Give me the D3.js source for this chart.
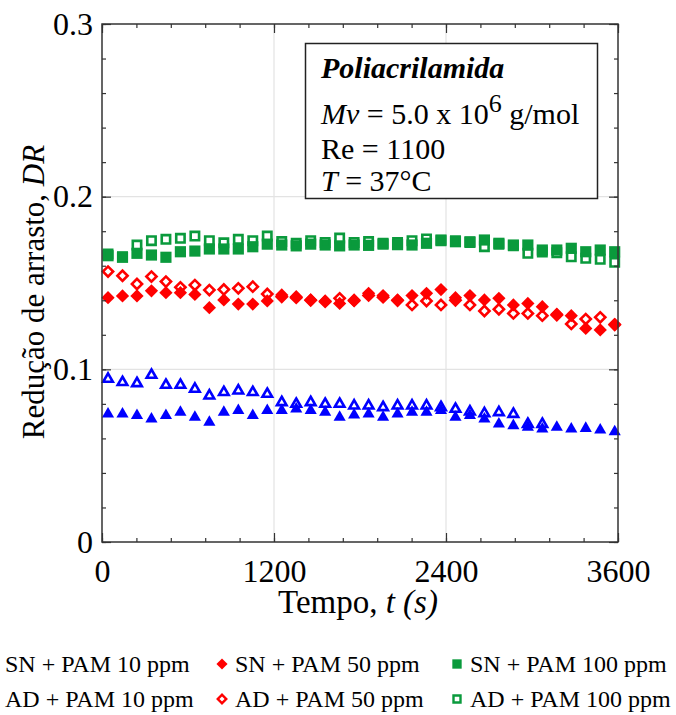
<!DOCTYPE html>
<html>
<head>
<meta charset="utf-8">
<script src="https://cdn.jsdelivr.net/npm/d3@7"></script>
<style>
  body { margin: 0; background: #fff; }
  text { font-family: "Liberation Serif", "Times New Roman", serif; }
</style>
</head>
<body>
<div id="chart"></div>
<script>
// time of each reading (s)
var tempo = [42, 143, 244, 345, 446, 547, 648, 749, 850, 951, 1052, 1153,
  1254, 1355, 1456, 1557, 1658, 1759, 1860, 1961, 2062, 2163, 2264, 2365,
  2466, 2567, 2668, 2769, 2870, 2971, 3072, 3173, 3274, 3375, 3476, 3577];

var sn10 = [0.0741, 0.0741, 0.0732, 0.0712, 0.0732, 0.0751, 0.0722, 0.0693, 0.0751, 0.0761, 0.0732, 0.0761,
  0.0761, 0.0770, 0.0761, 0.0751, 0.0722, 0.0735, 0.0741, 0.0722, 0.0741, 0.0751, 0.0751, 0.0761,
  0.0722, 0.0732, 0.0712, 0.0683, 0.0674, 0.0664, 0.0654, 0.0664, 0.0654, 0.0658, 0.0649, 0.0639];
var ad10 = [0.0944, 0.0925, 0.0919, 0.0967, 0.0909, 0.0909, 0.0886, 0.0847, 0.0867, 0.0876, 0.0867, 0.0857,
  0.0809, 0.0799, 0.0809, 0.0799, 0.0799, 0.0789, 0.0789, 0.0780, 0.0789, 0.0789, 0.0789, 0.0780,
  0.0770, 0.0755, 0.0745, 0.0751, 0.0741, 0.0683, 0.0683];
var sn50 = [0.1415, 0.1425, 0.1425, 0.1455, 0.1444, 0.1444, 0.1434, 0.1357, 0.1402, 0.1378, 0.1378, 0.1396,
  0.1431, 0.1421, 0.1402, 0.1396, 0.1382, 0.1396, 0.1440, 0.1427, 0.1402, 0.1427, 0.1440, 0.1462,
  0.1415, 0.1427, 0.1402, 0.1411, 0.1373, 0.1382, 0.1363, 0.1319, 0.1311, 0.1237, 0.1228, 0.1261];
var ad50 = [0.1566, 0.1542, 0.1494, 0.1537, 0.1508, 0.1475, 0.1488, 0.1459, 0.1463, 0.1469, 0.1479, 0.1436,
  0.1420, 0.1415, 0.1400, 0.1392, 0.1411, 0.1400, 0.1428, 0.1418, 0.1398, 0.1373, 0.1396, 0.1373,
  0.1400, 0.1373, 0.1338, 0.1348, 0.1324, 0.1324, 0.1311, 0.1315, 0.1263, 0.1291, 0.1301, 0.1258];
var sn100 = [0.1658, 0.1649, 0.1672, 0.1662, 0.1649, 0.1681, 0.1685, 0.1697, 0.1697, 0.1697, 0.1710, 0.1725,
  0.1720, 0.1715, 0.1725, 0.1720, 0.1715, 0.1720, 0.1718, 0.1725, 0.1722, 0.1720, 0.1730, 0.1749,
  0.1739, 0.1739, 0.1749, 0.1730, 0.1720, 0.1720, 0.1691, 0.1691, 0.1701, 0.1681, 0.1691, 0.1681];
var ad100 = [0.1668, 0.1652, 0.1720, 0.1745, 0.1753, 0.1759, 0.1772, 0.1745, 0.1733, 0.1753, 0.1745, 0.1772,
  0.1740, 0.1730, 0.1745, 0.1735, 0.1760, 0.1735, 0.1740, 0.1730, 0.1735, 0.1745, 0.1755, 0.1745,
  0.1745, 0.1735, 0.1710, 0.1725, 0.1715, 0.1672, 0.1680, 0.1675, 0.1652, 0.1643, 0.1637, 0.1620];

var xTicks = [0, 1200, 2400, 3600];
var yTicks = [0, 0.1, 0.2, 0.3];
var legendLabels = ["SN + PAM 10 ppm", "SN + PAM 50 ppm", "SN + PAM 100 ppm",
  "AD + PAM 10 ppm", "AD + PAM 50 ppm", "AD + PAM 100 ppm"];

var W = 676, H = 715;
var svg = d3.select("#chart").append("svg")
    .attr("width", W)
    .attr("height", H);

var plot = {left: 102, right: 618, top: 24, bottom: 542};

var x = d3.scaleLinear().domain([0, 3600]).range([plot.left, plot.right]);
var y = d3.scaleLinear().domain([0, 0.3]).range([plot.bottom, plot.top]);

var red = "#ff0000", blue = "#0000ff", green = "#0a9a3c";

// series: filled ones first, open ones drawn on top
var series = [
  {vals: sn10, shape: d3.symbolTriangle, size: 64, color: blue, open: false, rot: 0},
  {vals: sn50, shape: d3.symbolSquare, size: 88, color: red, open: false, rot: 45},
  {vals: sn100, shape: d3.symbolSquare, size: 125, color: green, open: false, rot: 0},
  {vals: ad10, shape: d3.symbolTriangle, size: 40, color: blue, open: true, rot: 0},
  {vals: ad50, shape: d3.symbolSquare, size: 52, color: red, open: true, rot: 45},
  {vals: ad100, shape: d3.symbolSquare, size: 70, color: green, open: true, rot: 0}
];

// grid
var grid = svg.append("g");
grid.selectAll(".gx").data([1200, 2400]).enter().append("line")
    .attr("x1", d => x(d)).attr("x2", d => x(d))
    .attr("y1", plot.top).attr("y2", plot.bottom)
    .attr("stroke", "#e3e3e3").attr("stroke-width", 1.2);
grid.selectAll(".gy").data([0.1, 0.2]).enter().append("line")
    .attr("x1", plot.left).attr("x2", plot.right)
    .attr("y1", d => y(d)).attr("y2", d => y(d))
    .attr("stroke", "#e3e3e3").attr("stroke-width", 1.2);

// info box
var box = svg.append("g");
box.append("rect")
    .attr("x", 305.5).attr("y", 43.5)
    .attr("width", 292).attr("height", 155)
    .attr("fill", "#fff").attr("stroke", "#222").attr("stroke-width", 1.5);
box.append("text").attr("x", 321).attr("y", 78)
    .style("font-size", "30px").style("font-weight", "bold").style("font-style", "italic")
    .text("Poliacrilamida");
var mv = box.append("text").attr("x", 321).attr("y", 124).style("font-size", "30px");
mv.append("tspan").style("font-style", "italic").text("Mv");
mv.append("tspan").text(" = 5.0 x 10");
mv.append("tspan").attr("dy", -12).style("font-size", "26px").text("6");
mv.append("tspan").attr("dy", 12).text(" g/mol");
box.append("text").attr("x", 321).attr("y", 159).style("font-size", "30px").text("Re = 1100");
var tt = box.append("text").attr("x", 321).attr("y", 191).style("font-size", "30px");
tt.append("tspan").style("font-style", "italic").text("T");
tt.append("tspan").text(" = 37°C");

// markers
series.forEach(function(s) {
  var sym = d3.symbol().type(s.shape).size(s.size);
  svg.append("g").selectAll("path").data(s.vals).enter().append("path")
      .attr("d", sym)
      .attr("transform", (d, i) => "translate(" + x(tempo[i]) + "," + y(d) + ") rotate(" + s.rot + ")")
      .attr("fill", s.open ? "none" : s.color)
      .attr("stroke", s.color)
      .attr("stroke-width", s.open ? 2.6 : 0);
});

// axes
var axisColor = "#333";
function styleAxis(g, fs) {
  g.select(".domain").remove();
  g.selectAll("line").attr("stroke", axisColor).attr("stroke-width", 1.2);
  g.selectAll("text").style("font-size", fs).attr("fill", "#000")
      .style("font-family", "'Liberation Serif', 'Times New Roman', serif");
}

var minorX = d3.range(0, 3601, 240);
var minorY = d3.range(0, 0.3001, 0.02);

svg.append("g").attr("transform", "translate(0," + plot.bottom + ")")
    .call(d3.axisBottom(x).tickValues(minorX).tickSize(-4).tickFormat(""))
    .call(g => styleAxis(g, "0px"));
svg.append("g").attr("transform", "translate(0," + plot.bottom + ")")
    .call(d3.axisBottom(x).tickValues(xTicks).tickSize(-9).tickPadding(17).tickFormat(d3.format("d")))
    .call(g => styleAxis(g, "32px"));
svg.append("g").attr("transform", "translate(0," + plot.top + ")")
    .call(d3.axisTop(x).tickValues(minorX).tickSize(-4).tickFormat(""))
    .call(g => styleAxis(g, "0px"));
svg.append("g").attr("transform", "translate(0," + plot.top + ")")
    .call(d3.axisTop(x).tickValues(xTicks).tickSize(-9).tickFormat(""))
    .call(g => styleAxis(g, "0px"));

svg.append("g").attr("transform", "translate(" + plot.left + ",0)")
    .call(d3.axisLeft(y).tickValues(minorY).tickSize(-4).tickFormat(""))
    .call(g => styleAxis(g, "0px"));
svg.append("g").attr("transform", "translate(" + plot.left + ",0)")
    .call(d3.axisLeft(y).tickValues(yTicks).tickSize(-9).tickPadding(9)
      .tickFormat(d => d === 0 ? "0" : d3.format(".1f")(d)))
    .call(g => styleAxis(g, "32px"));
svg.append("g").attr("transform", "translate(" + plot.right + ",0)")
    .call(d3.axisRight(y).tickValues(minorY).tickSize(-4).tickFormat(""))
    .call(g => styleAxis(g, "0px"));
svg.append("g").attr("transform", "translate(" + plot.right + ",0)")
    .call(d3.axisRight(y).tickValues(yTicks).tickSize(-9).tickFormat(""))
    .call(g => styleAxis(g, "0px"));

svg.append("rect")
    .attr("x", plot.left).attr("y", plot.top)
    .attr("width", plot.right - plot.left).attr("height", plot.bottom - plot.top)
    .attr("fill", "none").attr("stroke", axisColor).attr("stroke-width", 1.5);

// axis titles
var xt = svg.append("text").attr("x", 358).attr("y", 613)
    .attr("text-anchor", "middle").style("font-size", "33px");
xt.append("tspan").text("Tempo,");
xt.append("tspan").style("font-style", "italic").text(" t (s)");

var yt = svg.append("text")
    .attr("transform", "translate(44,292) rotate(-90)")
    .attr("text-anchor", "middle").style("font-size", "31px");
yt.append("tspan").text("Redução de arrasto, ");
yt.append("tspan").style("font-style", "italic").text("DR");

// legend
var legCols = [5, 235, 470];
var legRows = [672, 707];
series.forEach(function(s, i) {
  var col = i % 3, row = Math.floor(i / 3);
  var lg = svg.append("g");
  var mx = legCols[col] - 13, my = legRows[row] - 8;
  lg.append("path")
      .attr("d", d3.symbol().type(s.shape).size(s.size * 0.7))
      .attr("transform", "translate(" + (col === 0 ? -20 : mx) + "," + my + ") rotate(" + s.rot + ")")
      .attr("fill", s.open ? "none" : s.color)
      .attr("stroke", s.color)
      .attr("stroke-width", s.open ? 2.4 : 0);
  lg.append("text")
      .attr("x", legCols[col]).attr("y", legRows[row])
      .style("font-size", "24px")
      .text(legendLabels[i]);
});
</script>
</body>
</html>
